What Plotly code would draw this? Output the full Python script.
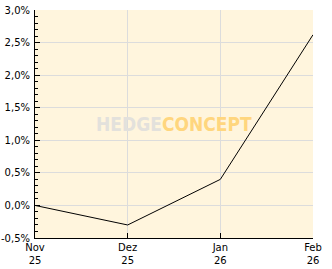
import plotly.graph_objects as go

months = ["Nov<br>25", "Dez<br>25", "Jan<br>26", "Feb<br>26"]
values = [0.0, -0.30, 0.40, 2.62]
y_ticks = [-0.5, 0.0, 0.5, 1.0, 1.5, 2.0, 2.5, 3.0]
y_labels = ["-0,5%", "0,0%", "0,5%", "1,0%", "1,5%", "2,0%", "2,5%", "3,0%"]

xpos = list(range(len(months)))

fig = go.Figure()
fig.add_trace(go.Scatter(x=xpos, y=values, mode="lines",
                         line=dict(color="black", width=1), hoverinfo="skip"))

wm_style = "font-stretch:condensed;font-weight:bold"
fig.update_layout(
    width=332, height=269,
    margin=dict(l=35, r=19, t=10, b=31, autoexpand=False),
    paper_bgcolor="white", plot_bgcolor="#FFF5DD",
    showlegend=False,
    font=dict(family="DejaVu Sans", size=10, color="black"),
    annotations=[dict(
        x=0.5, y=0.5, xref="paper", yref="paper", xanchor="center", yanchor="middle",
        text=(f"<span style='color:#E3E1DC;{wm_style}'>HEDGE</span>"
              f"<span style='color:#FFD67E;{wm_style}'>CONCEPT</span>"),
        font=dict(family="DejaVu Sans", size=19, weight="bold"),
        showarrow=False, xshift=0, yshift=0,
    )],
)
fig.update_xaxes(
    range=[0, 3], tickvals=xpos, ticktext=months,
    showgrid=True, gridcolor="#DCDCDC", gridwidth=1,
    showline=True, linecolor="black", linewidth=1,
    ticks="inside", ticklen=5, tickcolor="black",
    ticklabelstandoff=0, automargin=False,
    zeroline=False, fixedrange=True,
)
fig.update_yaxes(
    range=[-0.5, 3.0], tickvals=y_ticks, ticktext=y_labels,
    showgrid=True, gridcolor="#DCDCDC", gridwidth=1,
    showline=True, linecolor="black", linewidth=1,
    ticks="inside", ticklen=5, tickcolor="black",
    ticklabelstandoff=2, automargin=False,
    minor=dict(dtick=0.1, tick0=0, ticks="inside", ticklen=3, tickcolor="black", showgrid=False),
    zeroline=False, fixedrange=True,
)
fig.write_html("out.html", config={"displayModeBar": False})
